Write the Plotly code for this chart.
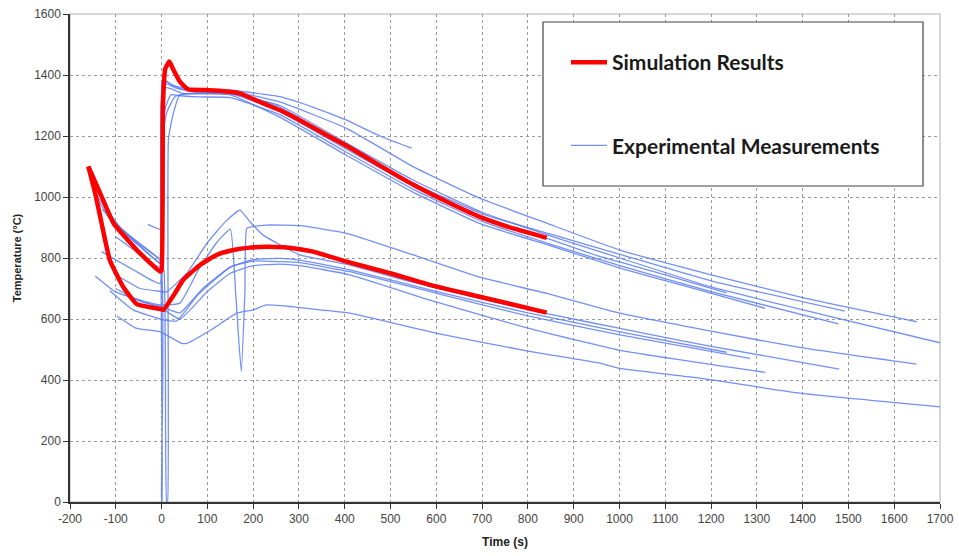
import plotly.graph_objects as go

# ---------------- data ----------------
# Simulation results (two red curves)
sim_upper_t = [-160, -134, -105, -54, -3, 0, 3, 8, 17, 25, 40, 58, 98, 149, 171, 222, 258, 295, 331, 368, 404, 477, 550, 622, 695, 768, 841]
sim_upper_T = [1100, 1012, 914, 826, 755, 760, 1300, 1420, 1444, 1420, 1378, 1353, 1351, 1345, 1340, 1307, 1285, 1257, 1228, 1197, 1168, 1103, 1040, 985, 935, 897, 866]

sim_lower_t = [-160, -145, -131, -113, -84, -54, 0, 4, 29, 47, 84, 120, 157, 193, 229, 266, 302, 331, 404, 499, 601, 695, 841]
sim_lower_T = [1100, 1012, 914, 793, 706, 649, 632, 630, 684, 728, 777, 810, 826, 834, 837, 835, 829, 821, 788, 750, 706, 673, 621]

# Experimental measurements (thermocouples)
exp_a_t = [-30, -3, -1, 2, 10, 25, 60, 150, 258, 330, 404, 477, 546]
exp_a_T = [910, 895, 1100, 1385, 1380, 1365, 1355, 1350, 1329, 1295, 1252, 1200, 1160]

exp_b_t = [-140, -100, -50, -3, 0, 1, 3, 15, 40, 80, 150, 258, 404, 550, 695, 841, 1001, 1200, 1400, 1649]
exp_b_T = [990, 910, 850, 790, 0, 0, 1385, 1375, 1355, 1350, 1348, 1312, 1225, 1099, 996, 914, 826, 745, 670, 591]

exp_c_t = [-130, -80, -30, -3, 5, 11, 13, 15, 25, 40, 80, 150, 258, 400, 550, 700, 850, 1001, 1200, 1450, 1700]
exp_c_T = [960, 880, 815, 780, 760, 0, 0, 1190, 1270, 1335, 1340, 1338, 1300, 1180, 1055, 950, 872, 800, 705, 612, 522]

exp_d_t = [-100, -50, -3, 2, 10, 30, 60, 150, 258, 400, 550, 700, 850, 1001, 1200, 1492]
exp_d_T = [870, 815, 770, 1370, 1372, 1358, 1348, 1345, 1295, 1170, 1045, 945, 878, 812, 725, 626]

exp_e_t = [-131, -60, -3, 3, 8, 20, 40, 80, 150, 258, 400, 550, 700, 850, 1001, 1200, 1478]
exp_e_T = [821, 760, 717, 1200, 1290, 1335, 1332, 1328, 1326, 1270, 1150, 1025, 920, 845, 775, 690, 584]

exp_f_t = [-145, -90, -40, -3, 2, 20, 45, 100, 150, 258, 400, 550, 700, 850, 1001, 1150, 1318]
exp_f_T = [1010, 900, 830, 785, 1360, 1355, 1340, 1338, 1335, 1262, 1140, 1015, 910, 840, 767, 705, 635]

exp_g_t = [-120, -60, -3, 5, 12, 30, 60, 150, 258, 400, 550, 700, 850, 957, 1100, 1234]
exp_g_T = [940, 860, 800, 1220, 1280, 1330, 1340, 1340, 1280, 1160, 1035, 930, 860, 805, 745, 686]

exp_h_t = [-105, -47, 0, 10, 55, 100, 140, 171, 193, 222, 302, 411, 550, 700, 850, 1001, 1200, 1480]
exp_h_T = [750, 700, 690, 688, 750, 850, 920, 957, 919, 875, 810, 777, 720, 665, 615, 569, 510, 436]

exp_i_t = [-145, -102, -54, -3, 40, 80, 120, 150, 162, 174, 182, 186, 200, 229, 302, 404, 550, 695, 841, 1001, 1200, 1400, 1649]
exp_i_T = [741, 690, 665, 646, 652, 760, 850, 895, 680, 427, 690, 897, 903, 908, 906, 881, 810, 737, 684, 619, 560, 505, 452]

exp_j_t = [-113, -62, 4, 33, 80, 150, 200, 258, 302, 411, 601, 800, 1001, 1234]
exp_j_T = [693, 630, 597, 594, 680, 770, 795, 799, 793, 761, 690, 620, 558, 491]

exp_k_t = [-100, -50, 0, 40, 90, 150, 200, 258, 302, 411, 601, 800, 1001, 1285]
exp_k_T = [700, 660, 640, 620, 700, 770, 790, 788, 785, 755, 684, 610, 548, 471]

exp_l_t = [-80, -30, 0, 40, 100, 150, 200, 258, 302, 411, 601, 800, 1001, 1318]
exp_l_T = [680, 650, 635, 600, 690, 750, 775, 780, 775, 745, 655, 570, 497, 425]

exp_m_t = [-98, -54, -3, 44, 55, 113, 164, 200, 229, 288, 346, 411, 601, 800, 957, 1001, 1175, 1394, 1700]
exp_m_T = [610, 569, 558, 520, 520, 569, 619, 630, 646, 640, 630, 619, 553, 495, 455, 438, 406, 357, 312]

experiments = [
    (exp_a_t, exp_a_T), (exp_b_t, exp_b_T), (exp_c_t, exp_c_T), (exp_d_t, exp_d_T),
    (exp_e_t, exp_e_T), (exp_f_t, exp_f_T), (exp_g_t, exp_g_T), (exp_h_t, exp_h_T),
    (exp_i_t, exp_i_T), (exp_j_t, exp_j_T), (exp_k_t, exp_k_T), (exp_l_t, exp_l_T),
    (exp_m_t, exp_m_T),
]

x_ticks = list(range(-200, 1701, 100))
y_ticks = list(range(0, 1601, 200))

# ---------------- figure ----------------
BLUE = "rgba(90,125,240,0.85)"
RED = "#ff0000"

fig = go.Figure()

for i, (t, T) in enumerate(experiments):
    fig.add_trace(go.Scatter(
        x=t, y=T, mode="lines",
        line=dict(color=BLUE, width=1.3, shape="spline", smoothing=0.4),
        name="<b>Experimental Measurements</b>",
        legendgroup="exp", showlegend=(i == 0), legendrank=2,
    ))

fig.add_trace(go.Scatter(
    x=sim_upper_t, y=sim_upper_T, mode="lines",
    line=dict(color=RED, width=4.5, shape="spline", smoothing=0.4),
    name="<b>Simulation Results</b>", legendgroup="sim", showlegend=True, legendrank=1,
))
fig.add_trace(go.Scatter(
    x=sim_lower_t, y=sim_lower_T, mode="lines",
    line=dict(color=RED, width=4.5, shape="spline", smoothing=0.4),
    name="<b>Simulation Results</b>", legendgroup="sim", showlegend=False, legendrank=1,
))

L, R, T_, B = 70, 19, 14, 54
W, H = 959, 556
pw, ph = W - L - R, H - T_ - B


def px2paper(px, py):
    return (px - L) / pw, (H - B - py) / ph


bx0, by1 = px2paper(543, 22)
bx1, by0 = px2paper(923, 186)
lgx, lgy = px2paper(566, 42)

fig.update_layout(
    width=W, height=H,
    margin=dict(l=L, r=R, t=T_, b=B, autoexpand=False),
    paper_bgcolor="white", plot_bgcolor="white",
    font=dict(family="Liberation Sans, Arial, sans-serif", color="#333"),
    showlegend=True,
    legend=dict(
        x=lgx, y=lgy, xanchor="left", yanchor="top",
        bgcolor="rgba(0,0,0,0)", borderwidth=0,
        font=dict(family="Lato, Liberation Sans, sans-serif", size=21, color="#1a1a1a"),
        traceorder="grouped", tracegroupgap=53, itemwidth=36,
    ),
    shapes=[
        dict(type="rect", xref="paper", yref="paper", x0=0, x1=1, y0=0, y1=1,
             line=dict(color="#b0b0b0", width=1), layer="below"),
        dict(type="rect", xref="paper", yref="paper", x0=bx0, x1=bx1, y0=by0, y1=by1,
             line=dict(color="#444", width=1.2), fillcolor="white", layer="above"),
    ],
    xaxis=dict(
        range=[-200, 1700], tickvals=x_ticks, ticktext=[str(v) for v in x_ticks],
        showgrid=True, gridcolor="#9a9a9a", griddash="dot", gridwidth=1,
        showline=True, linecolor="#333", linewidth=1.5,
        ticks="outside", ticklen=5, tickcolor="#333", automargin=False,
        tickfont=dict(size=12, color="#444"), zeroline=False,
        title=dict(text="<b>Time (s)</b>", font=dict(family="Liberation Sans Narrow, Arial Narrow, Liberation Sans", size=12, color="#222"), standoff=12),
    ),
    yaxis=dict(
        range=[0, 1600], tickvals=y_ticks, ticktext=[str(v) for v in y_ticks],
        showgrid=True, gridcolor="#9a9a9a", griddash="dot", gridwidth=1,
        showline=True, linecolor="#333", linewidth=1.5,
        ticks="outside", ticklen=5, tickcolor="#333", automargin=False,
        tickfont=dict(size=12, color="#444"), zeroline=False,
        title=dict(text="<b>Temperature (°C)</b>", font=dict(family="Liberation Sans Narrow, Arial Narrow, Liberation Sans", size=11, color="#222"), standoff=10),
    ),
)

fig.write_html(
    "out.html",
    config={"displayModeBar": False},
    post_script="document.body.style.margin='0';document.body.style.overflow='hidden';",
)
